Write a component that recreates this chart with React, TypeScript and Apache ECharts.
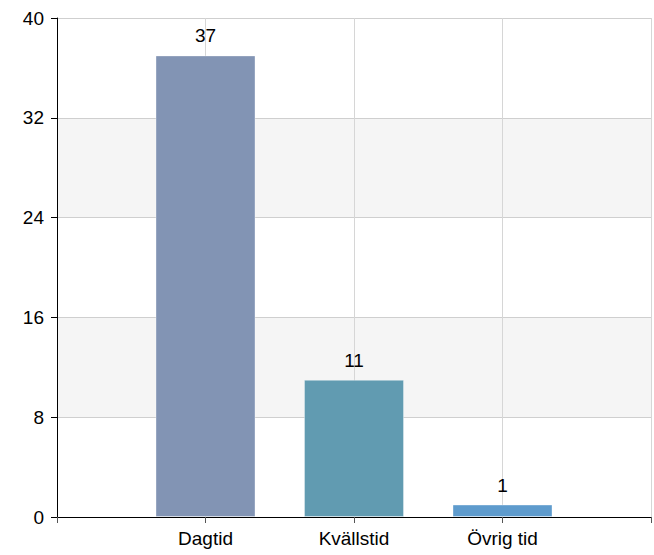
import React, { useEffect, useRef } from "react";
import * as echarts from "echarts";

const categories = ["Dagtid", "Kvällstid", "Övrig tid"];
const values = [37, 11, 1];
const barColors = ["#8294b4", "#619bb1", "#5e9bcd"];
const yTicks = [0, 8, 16, 24, 32, 40];

export default function App() {
  const ref = useRef<HTMLDivElement>(null);
  useEffect(() => {
    if (!ref.current) return;
    const chart = echarts.init(ref.current, null, { renderer: "svg" });
    const axisData = ["", ...categories, ""];
    const seriesData = [
      null,
      ...values.map((v, i) => ({
        value: v,
        itemStyle: { color: barColors[i], borderColor: "rgba(255,255,255,0.35)", borderWidth: 1 },
      })),
      null,
    ];
    chart.setOption({
      animation: false,
      textStyle: { fontFamily: "Liberation Sans, Arial, sans-serif" },
      grid: { left: 57, top: 18, width: 600, height: 499, containLabel: false },
      xAxis: {
        type: "category",
        data: axisData,
        boundaryGap: false,
        axisLine: { show: true, lineStyle: { color: "#000", width: 1 } },
        axisTick: { show: true, length: 6, lineStyle: { color: "#555" } },
        axisLabel: { color: "#000", fontSize: 19, margin: 12, interval: 0 },
        splitLine: { show: true, lineStyle: { color: "#d6d6d6", width: 1 } },
      },
      yAxis: {
        type: "value",
        min: yTicks[0],
        max: yTicks[yTicks.length - 1],
        interval: 8,
        axisLine: { show: true, lineStyle: { color: "#000", width: 1 } },
        axisTick: { show: true, length: 6, lineStyle: { color: "#000" } },
        axisLabel: { color: "#000", fontSize: 19, margin: 13 },
        splitLine: { show: true, lineStyle: { color: "#cfcfcf", width: 1 } },
        splitArea: { show: true, areaStyle: { color: ["#ffffff", "#f5f5f5"] } },
      },
      series: [
        {
          type: "bar",
          data: seriesData,
          barWidth: 100,
          label: {
            show: true,
            position: "top",
            distance: 10,
            color: "#000",
            fontSize: 19,
          },
        },
      ],
    });
    return () => chart.dispose();
  }, []);
  return <div ref={ref} style={{ width: 654, height: 555, position: "absolute", left: 0, top: 0 }} />;
}
